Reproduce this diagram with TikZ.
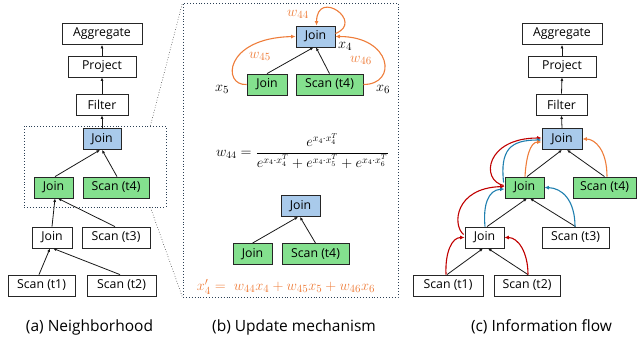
\documentclass[tikz,border=0pt]{standalone}
\usepackage{amsmath}
\usepackage{fontspec}
\setmainfont{Open Sans}
\usetikzlibrary{arrows.meta,calc}
\definecolor{jblue}{HTML}{A9CAEB}
\definecolor{jgreen}{HTML}{84E08E}
\definecolor{cred}{HTML}{C00000}
\definecolor{cteal}{HTML}{1F7FAF}
\definecolor{corange}{HTML}{EE7D3A}
\definecolor{dotc}{HTML}{2B3F55}
\begin{document}
\begin{tikzpicture}[x=1pt,y=-1pt,
  box/.style={draw=black!85, line width=0.8pt, minimum height=21pt, inner sep=0pt, font=\fontsize{12.3}{14}\selectfont},
  bluebox/.style={fill=jblue},
  greenbox/.style={fill=jgreen},
  arr/.style={line width=0.8pt, draw=black!90, -{Latex[length=3.5pt,width=3pt]}},
  carr/.style={line width=1.1pt, -{Latex[length=4.5pt,width=4pt]}},
  rarr/.style={carr, draw=cred},
  tarr/.style={carr, draw=cteal},
  oarr/.style={carr, draw=corange},
  dotbox/.style={draw=dotc, line width=0.9pt, dotted, inner sep=0pt},
  zoomline/.style={draw=black!80, line width=0.6pt, dotted},
  mlab/.style={inner sep=0pt, font=\fontsize{15}{17}\selectfont},
  olab/.style={mlab, text=corange},
  captxt/.style={inner sep=0pt, font=\fontsize{15.5}{18}\selectfont}]
\useasboundingbox (0,0) rectangle (637,341);

% ---------- panel (a)
\node[dotbox, minimum width=142pt, minimum height=81pt] (nb) at (95,166.5) {};
\node[box,minimum width=80pt] (aAgg) at (102,34) {Aggregate};
\node[box,minimum width=68pt] (aProj) at (102,66.5) {Project};
\node[box,minimum width=52pt] (aFil) at (102,104.5) {Filter};
\node[box,bluebox,minimum width=38pt] (aJ) at (102,139) {Join};
\node[box,greenbox,minimum width=39pt] (aJg) at (53.5,187.5) {Join};
\node[box,greenbox,minimum width=66pt] (aS4) at (116,187.5) {Scan (t4)};
\node[box,minimum width=40pt] (aJw) at (52,237.5) {Join};
\node[box,minimum width=68pt] (aS3) at (116,237.5) {Scan (t3)};
\node[box,minimum width=67pt] (aS1) at (41.5,285.5) {Scan (t1)};
\node[box,minimum width=69pt] (aS2) at (121.5,285.5) {Scan (t2)};

\draw[arr] ($(aS1.north)+(-2.5,0)$) -- ($(aJw.south)+(-2,0)$);
\draw[arr] ($(aS2.north)+(-1.5,0)$) -- ($(aJw.south)+(1,0)$);
\draw[arr] (aJw.north) -- ($(aJg.south)+(1.5,0)$);
\draw[arr] ($(aS3.north)+(-1,0)$) -- ($(aJg.south)+(4.5,0)$);
\draw[arr] ($(aJg.north)+(1.5,0)$) -- ($(aJ.south)+(-2,0)$);
\draw[arr] ($(aS4.north)+(1,0)$) -- (aJ.south);
\draw[arr] (aJ.north) -- (aFil.south);
\draw[arr] (aFil.north) -- (aProj.south);
\draw[arr] (aProj.north) -- (aAgg.south);

% ---------- panel (b)
\node[dotbox, minimum width=215pt, minimum height=294pt] (ub) at (290.5,150) {};
\draw[zoomline] ($(nb.north east)+(-16,0)$) -- (ub.north west);
\draw[zoomline] ($(nb.south east)+(-16,0)$) -- (ub.south west);

\node[box,bluebox,minimum width=39pt] (bJ) at (315.5,36.5) {Join};
\node[box,greenbox,minimum width=40pt] (bJg) at (267,84.5) {Join};
\node[box,greenbox,minimum width=67pt] (bS4) at (329.5,84.5) {Scan (t4)};
\draw[arr] (bJg.north) -- ($(bJ.south)+(-2,0)$);
\draw[arr] (bS4.north) -- ($(bJ.south)+(0.5,0)$);
\draw[oarr] (bJg.west) .. controls (222,86) and (224,38) .. (bJ.west);
\draw[oarr] (bS4.east) .. controls (398,84.5) and (392,36.5) .. (bJ.east);
\draw[oarr] ($(bJ.east)+(0,-3)$) .. controls (365,22) and (317,-12) .. ($(bJ.north)+(1,0)$);

\node[olab] (lw44) at (298,14) {$w_{44}$};
\node[olab] (lw45) at (260,56) {$w_{45}$};
\node[olab] (lw46) at (361,60) {$w_{46}$};
\node[mlab] (lx4) at (345,46) {$x_4$};
\node[mlab] (lx5) at (222,89) {$x_5$};
\node[mlab] (lx6) at (383,89) {$x_6$};

\node[mlab, font=\fontsize{14.6}{17}\selectfont] (eq) at (302.5,151) {$w_{44}=\dfrac{e^{x_4\cdot x_4^T}}{e^{x_4\cdot x_4^T}+e^{x_4\cdot x_5^T}+e^{x_4\cdot x_6^T}}$};

\node[box,bluebox,minimum width=39pt] (bJ2) at (300.5,206) {Join};
\node[box,greenbox,minimum width=39pt] (bJg2) at (252.5,254) {Join};
\node[box,greenbox,minimum width=67pt] (bS42) at (315.5,254) {Scan (t4)};
\draw[arr] (bJg2.north) -- ($(bJ2.south)+(-2.5,0)$);
\draw[arr] (bS42.north) -- ($(bJ2.south)+(-0.5,0)$);

\node[olab, font=\fontsize{15.5}{18}\selectfont] (upd) at (286,287) {$x_4' =\; w_{44}x_4 + w_{45}x_5 + w_{46}x_6$};

% ---------- panel (c)
\node[box,minimum width=80pt] (cAgg) at (562,34) {Aggregate};
\node[box,minimum width=68pt] (cProj) at (562,66.5) {Project};
\node[box,minimum width=51pt] (cFil) at (561.5,104.5) {Filter};
\node[box,bluebox,minimum width=40pt] (cJ) at (562,139) {Join};
\node[box,greenbox,minimum width=39pt] (cJg) at (524.5,187.5) {Join};
\node[box,greenbox,minimum width=63pt] (cS4) at (604.5,187.5) {Scan (t4)};
\node[box,minimum width=39pt] (cJw) at (484.5,237.5) {Join};
\node[box,minimum width=67pt] (cS3) at (575.5,237.5) {Scan (t3)};
\node[box,minimum width=70pt] (cS1) at (448,285.5) {Scan (t1)};
\node[box,minimum width=66pt] (cS2) at (527,285.5) {Scan (t2)};

\draw[arr] ($(cS1.north)+(-1,0)$) -- ($(cJw.south)+(-1.5,0)$);
\draw[arr] ($(cS2.north)+(1,0)$) -- ($(cJw.south)+(3.5,0)$);
\draw[arr] ($(cJw.north)+(2.5,0)$) -- ($(cJg.south)+(2.5,0)$);
\draw[arr] (cS3.north) -- ($(cJg.south)+(5.5,0)$);
\draw[arr] ($(cJg.north)+(2.5,0)$) -- (cJ.south);
\draw[arr] (cS4.north) -- ($(cJ.south)+(5,0)$);
\draw[arr] (cJ.north) -- (cFil.south);
\draw[arr] (cFil.north) -- (cProj.south);
\draw[arr] (cProj.north) -- (cAgg.south);

\draw[rarr] ($(cS1.north)+(-2,0)$) .. controls (445,252) and (452,237.5) .. (cJw.west);
\draw[rarr] ($(cS2.north)+(1,0)$) .. controls (528,252) and (518,237.5) .. (cJw.east);
\draw[rarr] ($(cJw.west)+(-1,-3)$) .. controls (452,225) and (455,188) .. ($(cJg.west)+(0,-1)$);
\draw[tarr] ($(cJw.north)+(0.5,0)$) .. controls (483,205) and (488,190) .. ($(cJg.west)+(0,1.5)$);
\draw[rarr] ($(cJg.west)+(-1,-2)$) .. controls (480,180) and (486,138) .. ($(cJ.west)+(0,-1)$);
\draw[tarr] ($(cJg.west)+(-1,-5)$) .. controls (500,150) and (510,140) .. ($(cJ.west)+(0,1)$);
\draw[oarr] ($(cJg.north)+(0.5,0)$) .. controls (526,158) and (530,142) .. ($(cJ.west)+(0,3)$);
\draw[oarr] ($(cS4.north)+(2.5,0)$) .. controls (607,150) and (595,139) .. (cJ.east);
\draw[tarr] ($(cS3.north)+(-0.5,0)$) .. controls (575,200) and (562,188) .. (cJg.east);

% ---------- captions
\node[captxt] (capa) at (89.5,327) {(a) Neighborhood};
\node[captxt] (capb) at (294,327) {(b) Update mechanism};
\node[captxt] (capc) at (541.5,327) {(c) Information flow};
\end{tikzpicture}
\end{document}
